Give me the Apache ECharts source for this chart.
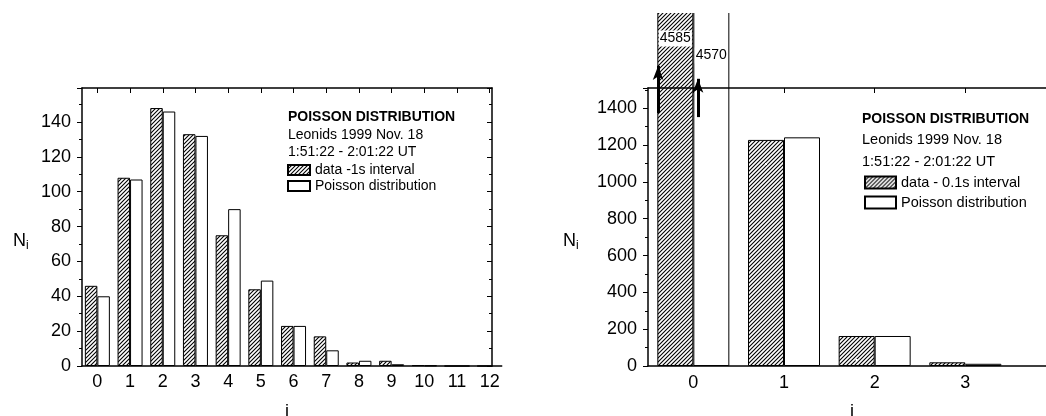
<!DOCTYPE html>
<html>
<head>
<meta charset="utf-8">
<script src="https://cdn.jsdelivr.net/npm/echarts@6/dist/echarts.min.js"></script>
<style>
  html, body { margin: 0; padding: 0; background: #fff; }
  #chart { width: 1046px; height: 416px; }
</style>
</head>
<body>
<div id="chart"></div>
<script>
// left panel: counts per 1 s interval
const leftI = [0, 1, 2, 3, 4, 5, 6, 7, 8, 9, 10, 11, 12];
const leftData = [46, 108, 148, 133, 75, 44, 23, 17, 2, 3, 0.5, 0, 0];
const leftPoisson = [40, 107, 146, 132, 90, 49, 23, 9, 3, 1, 0.3, 0, 0];

// right panel: counts per 0.1 s interval
const rightI = [0, 1, 2, 3];
const rightData = [4585, 1228, 163, 20];
const rightPoisson = [4570, 1242, 163, 12];

const FONT = "'Liberation Sans', Arial, sans-serif";
const rightYMax = 1510;
// the bar grid of the right panel is taller (top 8 instead of 88) but shares the scale
const rightBarYMax = rightYMax * (416 - 50 - 8) / (416 - 50 - 88);

function hatchPattern() {
  const c = document.createElement("canvas");
  c.width = 4;
  c.height = 4;
  const g = c.getContext("2d");
  g.fillStyle = "#fff";
  g.fillRect(0, 0, 4, 4);
  g.strokeStyle = "#000";
  g.lineWidth = 1.1;
  g.beginPath();
  g.moveTo(-1, 5); g.lineTo(5, -1);
  g.moveTo(-1, 1); g.lineTo(1, -1);
  g.moveTo(3, 5); g.lineTo(5, 3);
  g.stroke();
  return c;
}
const hatch = { image: hatchPattern(), repeat: "repeat" };

const axisLine = { show: true, onZero: false, lineStyle: { color: "#000", width: 1.5 } };
const labelStyle = { color: "#000", fontFamily: FONT, fontSize: 18 };
const plain = (v) => String(v);

function pairs(xs, ys) {
  return xs.map((x, i) => [x, ys[i]]);
}

const subN = {
  n: { fontSize: 18, fontFamily: FONT, fill: "#000", lineHeight: 22 },
  s: { fontSize: 12, fontFamily: FONT, fill: "#000", lineHeight: 22, verticalAlign: "bottom", padding: [8, 0, 0, 0] },
};

const chart = echarts.init(document.getElementById("chart"));

chart.setOption({
  backgroundColor: "#fff",
  animation: false,
  textStyle: { fontFamily: FONT },
  grid: [
    { left: 82, top: 88, width: 410, bottom: 50, outerBoundsMode: "none" },
    { left: 648, top: 88, right: -10, bottom: 50, outerBoundsMode: "none" },
    { left: 648, top: 8, right: -10, bottom: 50, outerBoundsMode: "none" },
  ],
  xAxis: [
    {
      gridIndex: 0, type: "value", position: "bottom", min: -0.47, max: 12.07,
      axisLine: axisLine, splitLine: { show: false }, axisTick: { show: false },
      axisLabel: Object.assign({ customValues: leftI, margin: 7 }, labelStyle),
      name: "i", nameLocation: "middle", nameGap: 37,
      nameTextStyle: labelStyle,
    },
    {
      gridIndex: 0, type: "value", position: "top", min: -0.47, max: 12.07,
      axisLine: axisLine, splitLine: { show: false },
      axisTick: { inside: true, length: 5, customValues: leftI, lineStyle: { color: "#000" } },
      axisLabel: { show: false },
    },
    {
      gridIndex: 1, type: "value", position: "bottom", min: -0.5, max: 4.0,
      axisLine: axisLine, splitLine: { show: false }, axisTick: { show: false },
      axisLabel: Object.assign({ customValues: rightI, margin: 8 }, labelStyle),
      name: "i", nameLocation: "middle", nameGap: 37,
      nameTextStyle: labelStyle,
    },
    {
      gridIndex: 1, type: "value", position: "top", min: -0.5, max: 4.0, z: 5,
      axisLine: axisLine, splitLine: { show: false },
      axisTick: { inside: true, length: 5, customValues: rightI, lineStyle: { color: "#000" } },
      axisLabel: { show: false },
    },
    { gridIndex: 2, type: "value", min: -0.5, max: 4.0, show: false },
  ],
  yAxis: [
    {
      gridIndex: 0, type: "value", position: "left", min: 0, max: 159.5, interval: 20,
      axisLine: axisLine, splitLine: { show: false },
      axisTick: { length: 5, lineStyle: { color: "#000" } },
      minorTick: { show: true, splitNumber: 2, length: 3, lineStyle: { color: "#000" } },
      axisLabel: Object.assign({ margin: 11, showMaxLabel: false, formatter: plain }, labelStyle),
    },
    {
      gridIndex: 0, type: "value", position: "right", min: 0, max: 159.5, interval: 20,
      axisLine: axisLine, splitLine: { show: false },
      axisTick: { inside: true, length: 5, lineStyle: { color: "#000" } },
      minorTick: { show: true, splitNumber: 2, length: 3, lineStyle: { color: "#000" } },
      axisLabel: { show: false },
    },
    {
      gridIndex: 1, type: "value", position: "left", min: 0, max: rightYMax, interval: 200,
      axisLine: axisLine, splitLine: { show: false },
      axisTick: { length: 5, lineStyle: { color: "#000" } },
      minorTick: { show: true, splitNumber: 2, length: 3, lineStyle: { color: "#000" } },
      axisLabel: Object.assign({ margin: 11, showMaxLabel: false, formatter: plain }, labelStyle),
    },
    { gridIndex: 2, type: "value", min: 0, max: rightBarYMax, show: false },
  ],
  legend: [
    {
      left: 287, top: 163, orient: "vertical", padding: 0,
      itemWidth: 22, itemHeight: 10, itemGap: 2, icon: "rect",
      textStyle: { color: "#000", fontFamily: FONT, fontSize: 14 },
      data: ["data -1s interval", "Poisson distribution"],
    },
    {
      left: 864, top: 175, orient: "vertical", padding: 0,
      itemWidth: 31, itemHeight: 12, itemGap: 5, icon: "rect",
      textStyle: { color: "#000", fontFamily: FONT, fontSize: 14.5 },
      data: ["data - 0.1s interval", "Poisson distribution"],
    },
  ],
  graphic: [
    { type: "text", x: 288, y: 117, style: { text: "POISSON DISTRIBUTION", font: "bold 14px " + FONT, fill: "#000", verticalAlign: "middle" } },
    { type: "text", x: 288, y: 135, style: { text: "Leonids 1999 Nov. 18", font: "14px " + FONT, fill: "#000", verticalAlign: "middle" } },
    { type: "text", x: 288, y: 152, style: { text: "1:51:22 - 2:01:22 UT", font: "14px " + FONT, fill: "#000", verticalAlign: "middle" } },
    { type: "text", x: 862, y: 119, style: { text: "POISSON DISTRIBUTION", font: "bold 14px " + FONT, fill: "#000", verticalAlign: "middle" } },
    { type: "text", x: 862, y: 140, style: { text: "Leonids 1999 Nov. 18", font: "14.5px " + FONT, fill: "#000", verticalAlign: "middle" } },
    { type: "text", x: 862, y: 162, style: { text: "1:51:22 - 2:01:22 UT", font: "14.5px " + FONT, fill: "#000", verticalAlign: "middle" } },
    { type: "text", x: 13, y: 241, style: { text: "{n|N}{s|i}", verticalAlign: "middle", rich: subN } },
    { type: "text", x: 563, y: 241, style: { text: "{n|N}{s|i}", verticalAlign: "middle", rich: subN } },
    // the off-scale bars at i = 0 are cut off here
    { type: "rect", z: 100, shape: { x: 640, y: 0, width: 100, height: 13 }, style: { fill: "#fff" } },
  ],
  series: [
    {
      name: "data -1s interval", type: "bar", xAxisIndex: 0, yAxisIndex: 0,
      barWidth: 12.5, barGap: "0%",
      itemStyle: { color: hatch, borderColor: "#000", borderWidth: 1 },
      data: pairs(leftI, leftData),
    },
    {
      name: "Poisson distribution", type: "bar", xAxisIndex: 0, yAxisIndex: 0,
      barWidth: 12.5, barGap: "0%",
      itemStyle: { color: "#fff", borderColor: "#000", borderWidth: 1 },
      data: pairs(leftI, leftPoisson),
    },
    {
      name: "data - 0.1s interval", type: "bar", xAxisIndex: 4, yAxisIndex: 3,
      barWidth: 36, barGap: "0%",
      itemStyle: { color: hatch, borderColor: "#000", borderWidth: 1 },
      label: {
        show: true, position: "insideTop", distance: 23,
        formatter: (p) => (p.dataIndex === 0 ? String(p.value[1]) : ""),
        color: "#000", fontFamily: FONT, fontSize: 14,
        backgroundColor: "#fff", padding: [1, 1],
      },
      markLine: {
        silent: true, symbol: ["none", "arrow"], symbolSize: [8, 14],
        lineStyle: { color: "#000", width: 3, type: "solid" },
        label: { show: false },
        data: [
          [{ coord: [-0.19, 1374] }, { coord: [-0.19, 1630] }],
          [{ coord: [0.25, 1352] }, { coord: [0.25, 1560] }],
        ],
      },
      data: pairs(rightI, rightData),
    },
    {
      name: "Poisson distribution", type: "bar", xAxisIndex: 4, yAxisIndex: 3,
      barWidth: 36, barGap: "0%",
      itemStyle: { color: "#fff", borderColor: "#000", borderWidth: 1 },
      label: {
        show: true, position: "insideTop", distance: 40,
        formatter: (p) => (p.dataIndex === 0 ? String(p.value[1]) : ""),
        color: "#000", fontFamily: FONT, fontSize: 14,
        backgroundColor: "#fff", padding: [1, 1],
      },
      data: pairs(rightI, rightPoisson),
    },
  ],
});
</script>
</body>
</html>
